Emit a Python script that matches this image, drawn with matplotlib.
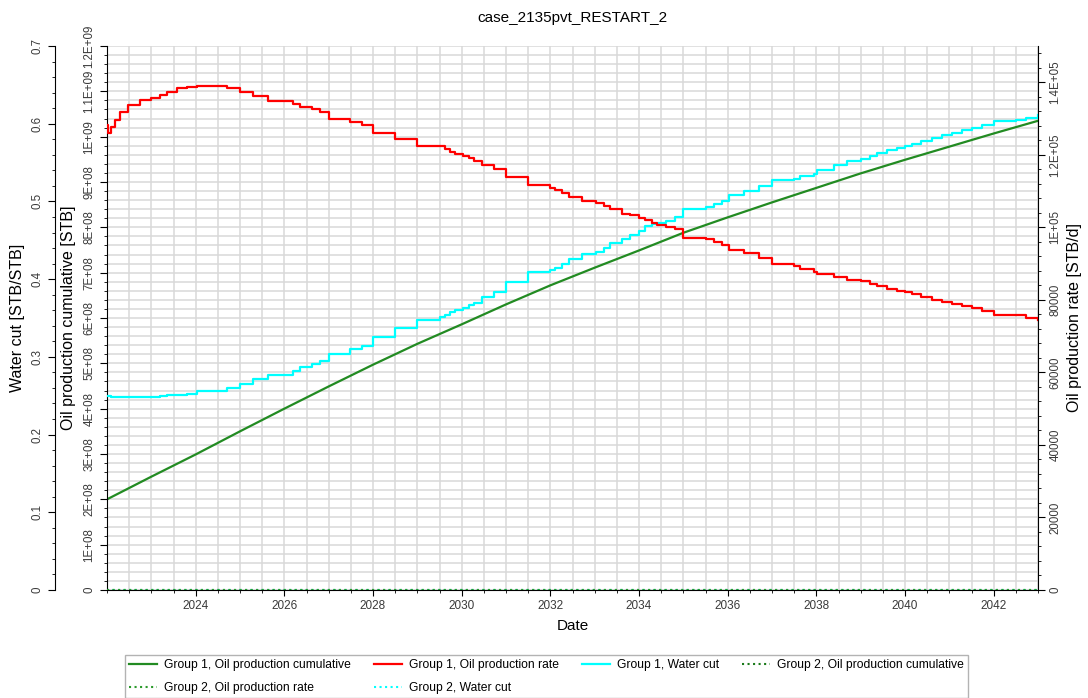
import matplotlib
matplotlib.use('Agg')
import matplotlib.pyplot as plt
import numpy as np
from matplotlib.ticker import MultipleLocator, FuncFormatter

plt.rcParams['font.family'] = ['Liberation Sans', 'DejaVu Sans']

# report times (decimal years) where rate / water cut change (step values)
step_years = [2022.0, 2022.03, 2022.1, 2022.18, 2022.29, 2022.48, 2022.74,
              2023.0, 2023.2, 2023.35, 2023.57, 2023.8,
              2024.02, 2024.48, 2024.7,
              2025.0, 2025.3, 2025.64, 2025.98,
              2026.2, 2026.36, 2026.62, 2026.8,
              2027.0, 2027.49, 2027.75,
              2028.0, 2028.5,
              2029.0, 2029.5, 2029.63, 2029.74, 2029.86,
              2030.04, 2030.16, 2030.27, 2030.46, 2030.72,
              2031.0, 2031.5,
              2032.0, 2032.11, 2032.26, 2032.41, 2032.72,
              2033.02, 2033.2, 2033.35, 2033.62, 2033.8,
              2034.0, 2034.14, 2034.3, 2034.41, 2034.6, 2034.82,
              2035.0, 2035.5, 2035.69, 2035.88,
              2036.03, 2036.36, 2036.7,
              2037.0, 2037.5, 2037.64, 2037.94,
              2038.02, 2038.4, 2038.7,
              2039.0, 2039.22, 2039.37, 2039.6, 2039.83,
              2040.0, 2040.16, 2040.35, 2040.62, 2040.84,
              2041.07, 2041.29, 2041.52, 2041.74,
              2042.0, 2042.5, 2042.72,
              2043.0]

g1_rate = [128200, 126000, 127700, 129700, 131700, 133700, 135100,
           135600, 136600, 137400, 138300, 138800,
           139100, 138900, 138400,
           137300, 136100, 134900, 134700,
           133900, 133200, 132700, 131700,
           129900, 129000, 128200,
           126000, 124300,
           122500, 122300, 121500, 120800, 120300,
           119800, 119100, 118300, 117300, 116100,
           113900, 111600,
           110900, 110400, 109600, 108400, 107200,
           106600, 105900, 105000, 103800, 103300,
           102700, 102000, 101300, 100700, 100200, 99500,
           97000, 96800, 96000, 95200,
           93800, 92900, 91600,
           89800, 89400, 88600, 87800,
           87100, 86400, 85400,
           85100, 84400, 83700, 83000, 82500,
           82200, 81700, 80900, 80000, 79500,
           78900, 78200, 77700, 77000,
           75900, 75700, 75000,
           74500]

g1_wcut = [0.249, 0.249, 0.2488, 0.2487, 0.2487, 0.2486, 0.2485,
           0.2486, 0.2495, 0.2504, 0.2512, 0.2518,
           0.2555, 0.2564, 0.2595,
           0.2647, 0.2712, 0.2763, 0.2772,
           0.2818, 0.2865, 0.2911, 0.2943,
           0.3036, 0.3096, 0.3142,
           0.3257, 0.3373,
           0.3475, 0.3512, 0.3544, 0.3581, 0.3604,
           0.3627, 0.3664, 0.3697, 0.3775, 0.3835,
           0.3964, 0.4089,
           0.4122, 0.4149, 0.4191, 0.4265, 0.4329,
           0.4352, 0.4403, 0.4468, 0.4514, 0.4574,
           0.462, 0.469, 0.4713, 0.4727, 0.4745, 0.4796,
           0.4898, 0.493, 0.4967, 0.5004,
           0.5083, 0.5138, 0.5198,
           0.5281, 0.5291, 0.5327, 0.5359,
           0.5406, 0.5475, 0.5521,
           0.5545, 0.5582, 0.5623, 0.566, 0.5683,
           0.5716, 0.5743, 0.5776, 0.5822, 0.5855,
           0.5882, 0.5914, 0.5947, 0.5984,
           0.6039, 0.6045, 0.6076,
           0.6108]

cum_years = list(range(2022, 2044))
g1_cum = [2.00e8, 2.50e8, 2.99e8, 3.50e8, 4.00e8, 4.49e8, 4.97e8, 5.43e8,
          5.86e8, 6.30e8, 6.72e8, 7.11e8, 7.49e8, 7.88e8, 8.22e8, 8.55e8,
          8.87e8, 9.19e8, 9.49e8, 9.78e8, 1.007e9, 1.035e9]

g2_years = [2022.0, 2043.0]
g2_cum = [0, 0]
g2_rate = [0, 0]
g2_wcut = [0, 0]

green = '#228B22'
red = '#FF0000'
cyan = '#00FFFF'
tick_col = '#3a3a3a'

fig = plt.figure(figsize=(10.88, 6.98), dpi=100)
ax = fig.add_axes([107/1088, 108/698, 931/1088, 544/698])
ax_wc = ax.twinx()
ax_rt = ax.twinx()

# lines
l_cum, = ax.plot(cum_years, g1_cum, color=green, lw=1.6)
l2_cum, = ax.plot(g2_years, g2_cum, color='#1a7a1a', lw=1.5, ls=':')
l_wc, = ax_wc.plot(step_years, g1_wcut, color=cyan, lw=1.6, drawstyle='steps-post')
l2_wc, = ax_wc.plot(g2_years, g2_wcut, color=cyan, lw=1.5, ls=':')
l_rt, = ax_rt.plot(step_years, g1_rate, color=red, lw=1.6, drawstyle='steps-post')
l2_rt, = ax_rt.plot(g2_years, g2_rate, color='#2a9a2a', lw=1.5, ls=':')

# x axis
ax.set_xlim(2022, 2043)
ax.set_xticks(range(2024, 2043, 2))
ax.xaxis.set_minor_locator(MultipleLocator(0.5))
ax.xaxis.set_major_formatter(FuncFormatter(lambda v, p: '%d' % v))
ax.tick_params(axis='x', which='major', length=4.5, labelsize=8.5, labelcolor=tick_col, pad=3)
ax.tick_params(axis='x', which='minor', length=2.5)
ax.set_xlabel('Date', fontsize=11)
ax.xaxis.set_label_coords(0.5, -0.054)

fmt = FuncFormatter(lambda v, p: '%.5G' % v)

# cumulative axis (inner left)
ax.set_ylim(0, 1.2e9)
ax.set_yticks(np.arange(0, 1.21e9, 1e8))
ax.yaxis.set_minor_locator(MultipleLocator(2e7))
ax.yaxis.set_major_formatter(fmt)
ax.set_ylabel('Oil production cumulative [STB]', fontsize=11.5)
ax.yaxis.set_label_coords(-0.033, 0.5)

# water cut axis (outer left)
ax_wc.set_ylim(0, 0.7)
ax_wc.set_yticks(np.arange(0, 0.71, 0.1))
ax_wc.yaxis.set_minor_locator(MultipleLocator(0.02))
ax_wc.yaxis.set_major_formatter(FuncFormatter(lambda v, p: '%g' % round(v, 2)))
ax_wc.yaxis.tick_left()
ax_wc.yaxis.set_label_position('left')
ax_wc.spines['left'].set_position(('outward', 37.4))
ax_wc.set_ylabel('Water cut [STB/STB]', fontsize=11.5)
ax_wc.yaxis.set_label_coords(-0.088, 0.5)

# rate axis (right)
ax_rt.set_ylim(0, 1.5e5)
ax_rt.set_yticks(np.arange(0, 1.41e5, 2e4))
ax_rt.yaxis.set_minor_locator(MultipleLocator(4000))
ax_rt.yaxis.set_major_formatter(fmt)
ax_rt.set_ylabel('Oil production rate [STB/d]', fontsize=11.5)
ax_rt.yaxis.set_label_coords(1.031, 0.5)

for a in (ax, ax_wc, ax_rt):
    a.tick_params(axis='y', which='major', length=5, labelsize=8.3,
                  labelcolor=tick_col, labelrotation=90, pad=3.2)
    a.tick_params(axis='y', which='minor', length=2.5)
    plt.setp(a.get_yticklabels(), va='center')

ax.spines['top'].set_visible(False)
ax.spines['right'].set_visible(False)
for s in ('top', 'bottom', 'right'):
    ax_wc.spines[s].set_visible(False)
for s in ('top', 'bottom', 'left'):
    ax_rt.spines[s].set_visible(False)

ax.grid(True, which='both', color='#d9d9d9', lw=1.1)
ax.set_axisbelow(True)

fig.text(572/1088, 1 - 18/698, 'case_2135pvt_RESTART_2', ha='center', va='center', fontsize=11)

handles = [l_cum, l2_rt, l_rt, l2_wc, l_wc, l2_cum]
labels = ['Group 1, Oil production cumulative', 'Group 2, Oil production rate',
          'Group 1, Oil production rate', 'Group 2, Water cut',
          'Group 1, Water cut', 'Group 2, Oil production cumulative']
leg = fig.legend(handles, labels, ncol=4, loc='upper left',
                 bbox_to_anchor=(125/1088, 1 - 655/698), fontsize=8.7,
                 frameon=True, fancybox=False, edgecolor='#a0a0a0',
                 handlelength=2.3, handletextpad=0.6, columnspacing=1.9,
                 labelspacing=0.9, borderpad=0.35, borderaxespad=0)
leg.get_frame().set_linewidth(1.0)

fig.savefig('out.png', dpi=100)
